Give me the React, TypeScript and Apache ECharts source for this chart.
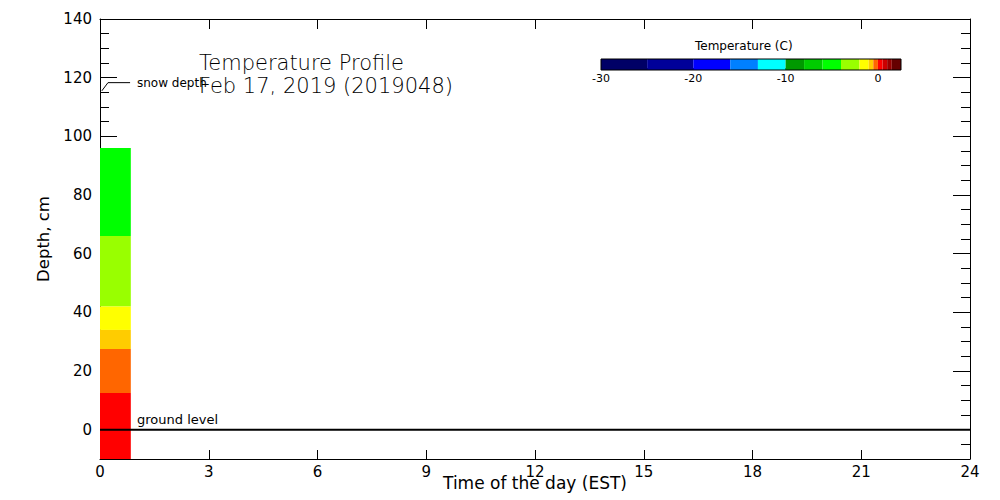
import React, { useEffect, useRef } from "react";
import * as echarts from "echarts";

// ---- data ----
const xTicks = [0, 3, 6, 9, 12, 15, 18, 21, 24];
const depthTicks = [0, 20, 40, 60, 80, 100, 120, 140];
const depthMinorTicks = [-10, -5, 0, 5, 10, 15, 20, 25, 30, 35, 40, 45, 50, 55, 60, 65, 70, 75, 80, 85, 90, 95, 100, 105, 110, 115, 120, 125, 130, 135, 140];
const colorbarLabels = [-30, -20, -10, 0];
const colorbarTicks = [-30, -25, -20, -15, -10, -5, 0];

// temperature bins of the colour scale (deg C) and their colours
const binEdges = [-30, -25, -20, -16, -13, -10, -8, -6, -4, -2, -1, -0.5, 0, 0.5, 1, 1.5, 2.5];
const binColors = [
  "#000066", "#000099", "#0000ff", "#0080ff", "#00ffff", "#009900", "#00cc00", "#00ff00",
  "#99ff00", "#ffff00", "#ffcc00", "#ff6600", "#ff0000", "#cc0000", "#990000", "#660000",
];

// one profile observation: start / end time (hours EST)
const sampleTimes = [0, 0.85];
// layer boundaries (cm, top to bottom) and layer temperatures (deg C)
const layerBounds = [96, 66, 42, 34, 27.5, 12.5, -10];
const layerTemps = [-4.5, -3.0, -1.5, -0.8, -0.3, 0.2];

// snow depth marker
const snowTimes = [0.05, 0.22, 0.83];
const snowDepths = [115.5, 118.3, 118.3];

// ground level
const groundTimes = [0, 24];
const groundDepths = [0, 0];

const FONT = "DejaVu Sans";

function colorFor(t: number): string {
  for (let i = 0; i < binColors.length; i++) {
    if (t >= binEdges[i] && t < binEdges[i + 1]) return binColors[i];
  }
  return t < binEdges[0] ? binColors[0] : binColors[binColors.length - 1];
}

export default function App() {
  const ref = useRef<HTMLDivElement>(null);
  useEffect(() => {
    if (!ref.current) return;
    const chart = echarts.init(ref.current, undefined, { renderer: "svg" });

    const layerData = layerTemps.map((t, i) => [
      sampleTimes[0], sampleTimes[1], layerBounds[i + 1], layerBounds[i], t,
    ]);
    const binData = binColors.map((_, i) => [binEdges[i], binEdges[i + 1], i]);

    const axisBase = {
      type: "value",
      axisLine: { show: false, onZero: false },
      splitLine: { show: false },
    };
    const black = { color: "#000", width: 1 };

    const option: any = {
      animation: false,
      backgroundColor: "#fff",
      title: {
        text: "Temperature Profile\nFeb 17, 2019 (2019048)",
        left: 199,
        top: 51,
        padding: 0,
        textStyle: { fontFamily: FONT, fontSize: 21, fontWeight: 200, color: "#000", lineHeight: 23 },
      },
      grid: [
        { left: 100, top: 19, width: 870, height: 440, outerBoundsMode: "none", containLabel: false },
        { left: 601, top: 59, width: 300, height: 11, show: true, z: 10, borderColor: "#000", borderWidth: 1, backgroundColor: "transparent", outerBoundsMode: "none", containLabel: false },
      ],
      xAxis: [
        {
          ...axisBase,
          gridIndex: 0,
          min: 0, max: 24, interval: 3,
          position: "bottom",
          axisLine: { show: true, onZero: false, lineStyle: black },
          axisTick: { show: true, inside: true, length: 9, customValues: xTicks, lineStyle: black },
          axisLabel: { customValues: xTicks, fontFamily: FONT, fontSize: 15, color: "#000", margin: 5 },
          name: "Time of the day (EST)",
          nameLocation: "middle",
          nameGap: 15,
          nameMoveOverlap: false,
          nameTextStyle: { fontFamily: FONT, fontSize: 17, color: "#000" },
        },
        {
          ...axisBase,
          gridIndex: 0,
          min: 0, max: 24, interval: 3,
          position: "top",
          axisLine: { show: true, onZero: false, lineStyle: black },
          axisTick: { show: true, inside: true, length: 10, customValues: xTicks, lineStyle: black },
          axisLabel: { show: false },
        },
        {
          ...axisBase,
          gridIndex: 1,
          min: -30, max: 2.5, interval: 10,
          position: "bottom",
          axisTick: { show: true, inside: true, length: 2, customValues: colorbarTicks, lineStyle: black },
          axisLabel: { customValues: colorbarLabels, fontFamily: FONT, fontSize: 11, color: "#000", margin: 3 },
        },
      ],
      yAxis: [
        {
          ...axisBase,
          gridIndex: 0,
          min: -10, max: 140, interval: 10,
          position: "left",
          axisLine: { show: true, onZero: false, lineStyle: black },
          axisTick: { show: true, inside: true, length: 17, customValues: depthTicks, lineStyle: black },
          axisLabel: { customValues: depthTicks, fontFamily: FONT, fontSize: 15, color: "#000", margin: 8 },
          name: "Depth, cm",
          nameLocation: "middle",
          nameGap: 48,
          nameMoveOverlap: false,
          nameTextStyle: { fontFamily: FONT, fontSize: 16.5, color: "#000" },
        },
        {
          ...axisBase,
          gridIndex: 0,
          min: -10, max: 140, interval: 5,
          position: "left",
          axisTick: { show: true, inside: true, length: 9, customValues: depthMinorTicks, lineStyle: black },
          axisLabel: { show: false },
        },
        {
          ...axisBase,
          gridIndex: 0,
          min: -10, max: 140, interval: 10,
          position: "right",
          axisLine: { show: true, onZero: false, lineStyle: black },
          axisTick: { show: true, inside: true, length: 17, customValues: depthTicks, lineStyle: black },
          axisLabel: { show: false },
        },
        {
          ...axisBase,
          gridIndex: 0,
          min: -10, max: 140, interval: 5,
          position: "right",
          axisTick: { show: true, inside: true, length: 9, customValues: depthMinorTicks, lineStyle: black },
          axisLabel: { show: false },
        },
        {
          ...axisBase,
          gridIndex: 1,
          min: 0, max: 1,
          show: false,
        },
      ],
      graphic: [
        {
          type: "text",
          left: 749 - 54,
          top: 40,
          style: { text: "Temperature (C)", fontFamily: FONT, fontSize: 12, fill: "#000" },
        },
        {
          type: "text",
          left: 137,
          top: 413,
          style: { text: "ground level", fontFamily: FONT, fontSize: 13, fill: "#000" },
        },
        {
          type: "text",
          left: 137,
          top: 77,
          style: { text: "snow depth", fontFamily: FONT, fontSize: 12, fill: "#000" },
        },
      ],
      series: [
        {
          type: "custom",
          xAxisIndex: 0,
          yAxisIndex: 0,
          data: layerData,
          renderItem: (params: any, api: any) => {
            const p0 = api.coord([api.value(0), api.value(3)]);
            const p1 = api.coord([api.value(1), api.value(2)]);
            return {
              type: "rect",
              shape: { x: p0[0], y: p0[1], width: p1[0] - p0[0], height: p1[1] - p0[1] },
              style: { fill: colorFor(api.value(4)) },
            };
          },
          z: 1,
        },
        {
          type: "line",
          xAxisIndex: 0,
          yAxisIndex: 0,
          data: groundTimes.map((t, i) => [t, groundDepths[i]]),
          showSymbol: false,
          lineStyle: { color: "#000", width: 2 },
          z: 3,
        },
        {
          type: "line",
          xAxisIndex: 0,
          yAxisIndex: 0,
          data: snowTimes.map((t, i) => [t, snowDepths[i]]),
          showSymbol: false,
          lineStyle: { color: "#000", width: 1 },
          z: 3,
        },
        {
          type: "custom",
          xAxisIndex: 2,
          yAxisIndex: 4,
          data: binData,
          renderItem: (params: any, api: any) => {
            const p0 = api.coord([api.value(0), 1]);
            const p1 = api.coord([api.value(1), 0]);
            return {
              type: "rect",
              shape: { x: p0[0], y: p0[1], width: p1[0] - p0[0], height: p1[1] - p0[1] },
              style: { fill: binColors[api.value(2)] },
            };
          },
        },
      ],
    };
    chart.setOption(option);
    return () => chart.dispose();
  }, []);
  return (
    <div
      ref={ref}
      style={{ position: "absolute", left: 0, top: 0, width: 1000, height: 500 }}
    />
  );
}
